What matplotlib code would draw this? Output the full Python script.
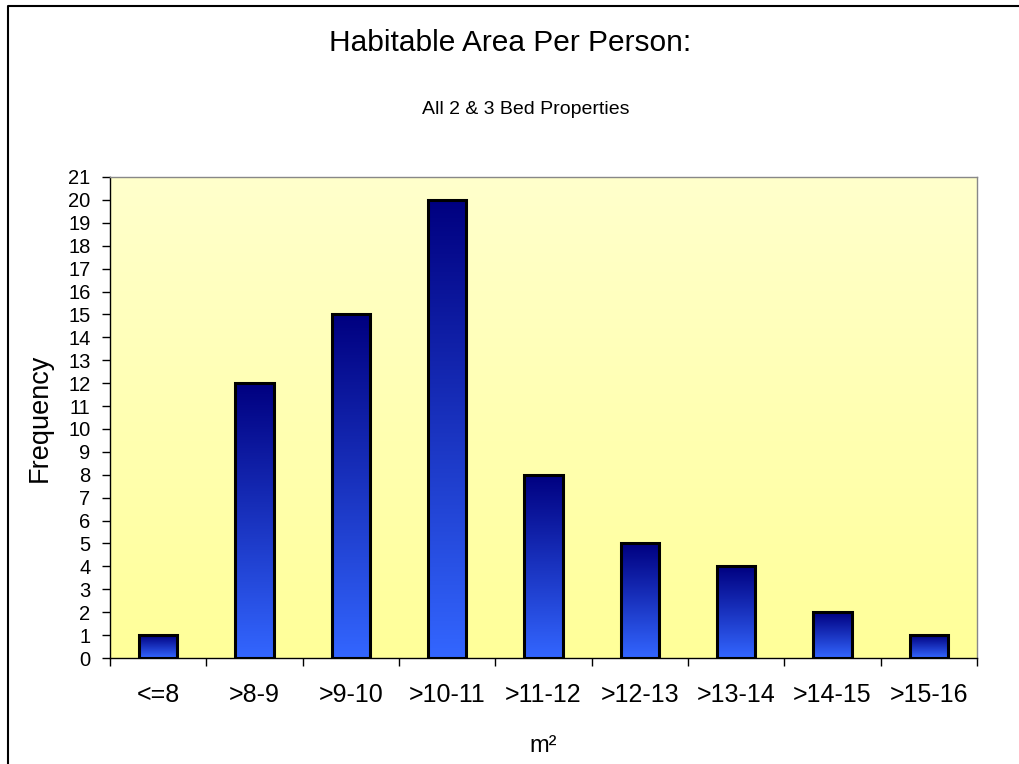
import matplotlib
matplotlib.use("Agg")
import matplotlib.pyplot as plt
from matplotlib.colors import LinearSegmentedColormap
from matplotlib.lines import Line2D
import numpy as np

plt.rcParams['font.family'] = ['Liberation Sans', 'DejaVu Sans']

# data
categories = ['<=8', '>8-9', '>9-10', '>10-11', '>11-12', '>12-13', '>13-14', '>14-15', '>15-16']
frequency = [1, 12, 15, 20, 8, 5, 4, 2, 1]

W, H = 1020, 764
fig = plt.figure(figsize=(W / 100, H / 100), dpi=100)
ax = fig.add_axes([110 / W, 1 - 658 / H, (977 - 110) / W, (658 - 177) / H])

x = np.arange(len(categories))

# plot area gradient (light yellow top -> yellow bottom)
bg_cmap = LinearSegmentedColormap.from_list('bg', ['#FFFF99', '#FFFFCC'])
grad = np.linspace(0, 1, 256).reshape(-1, 1)
ax.imshow(grad, cmap=bg_cmap, aspect='auto', origin='lower',
          extent=[0, 1, 0, 1], transform=ax.transAxes, zorder=0)

# bars with vertical gradient, dark navy on top
bar_cmap = LinearSegmentedColormap.from_list('bar', ['#3366FF', '#000080'])
bars = ax.bar(x, frequency, width=0.4, facecolor='none', edgecolor='black',
              linewidth=2.2, zorder=3)
for b in bars:
    bx, by = b.get_x(), b.get_y()
    bw, bh = b.get_width(), b.get_height()
    im = ax.imshow(grad, cmap=bar_cmap, aspect='auto', origin='lower',
                   extent=[bx, bx + bw, by, by + bh], zorder=2)
    im.set_clip_path(b)

ax.set_xlim(-0.5, len(categories) - 0.5)
ax.set_ylim(0, 21)

# ticks
ax.set_yticks(range(0, 22))
ax.set_xticks(np.arange(-0.5, len(categories), 1.0))
ax.set_xticklabels([])
ax.set_xticks(x, minor=True)
ax.set_xticklabels(categories, minor=True)
ax.tick_params(axis='x', which='major', direction='out', length=6, width=1)
ax.tick_params(axis='x', which='minor', length=0, pad=18, labelsize=18)
ax.tick_params(axis='y', direction='out', length=6, width=1, labelsize=14.5, pad=8)

for s in ['top', 'right']:
    ax.spines[s].set_color('#888888')
    ax.spines[s].set_linewidth(1)
for s in ['left', 'bottom']:
    ax.spines[s].set_color('black')
    ax.spines[s].set_linewidth(1)

ax.set_ylabel('Frequency', fontsize=19.5, labelpad=11)
ax.set_xlabel('m²', fontsize=17, labelpad=20)

fig.text(510 / W, 1 - 43 / H, 'Habitable Area Per Person:', ha='center', va='center', fontsize=21.5)
fig.text(526 / W, 1 - 109 / H, 'All 2 & 3 Bed Properties', ha='center', va='center', fontsize=14)

# outer border (left and top only, chart is cropped)
fig.add_artist(Line2D([8 / W, 8 / W, 1.0], [0.0, 1 - 6 / H, 1 - 6 / H],
                      transform=fig.transFigure, color='black', linewidth=1.5))

fig.savefig('out.png', dpi=100)
